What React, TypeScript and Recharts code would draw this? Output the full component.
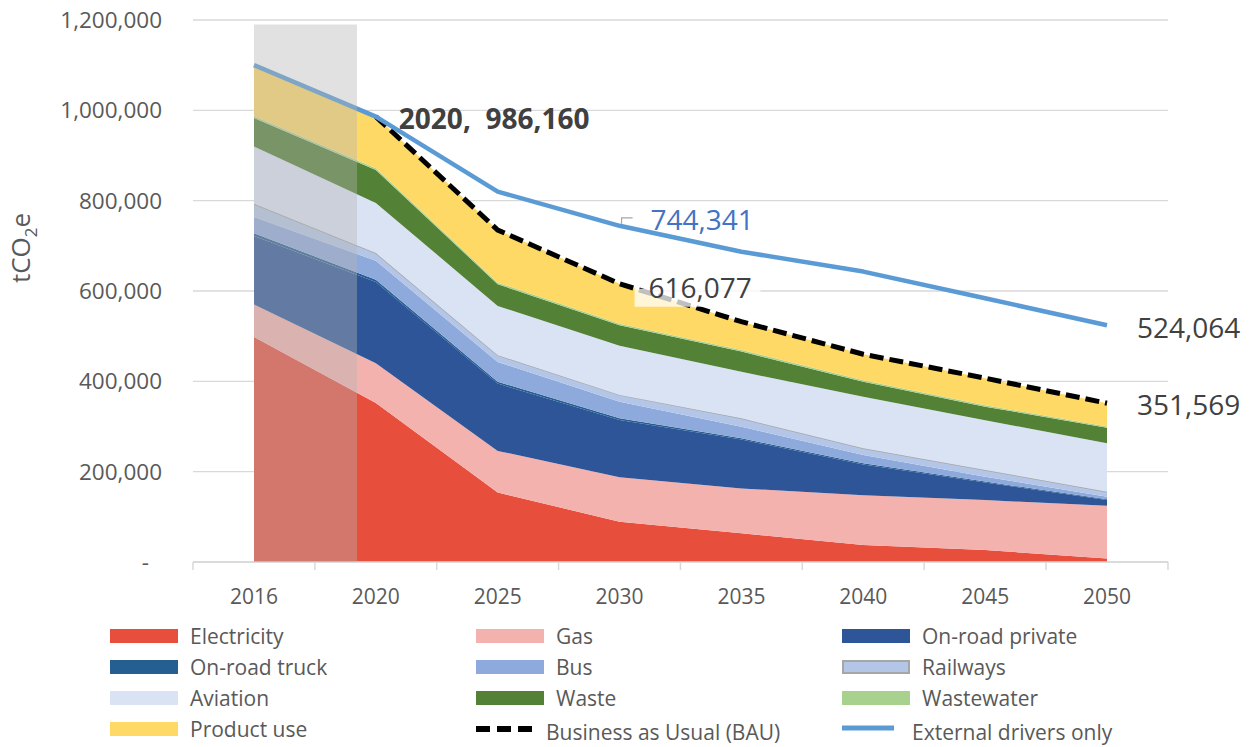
import React from 'react'
import {
  ComposedChart,
  Area,
  Line,
  XAxis,
  YAxis,
  CartesianGrid,
  ReferenceArea,
  LabelList,
} from 'recharts'

const years = ['2016', '2020', '2025', '2030', '2035', '2040', '2045', '2050']

// stacked sectors, tCO2e
const electricity = [498000, 352000, 154000, 89000, 63500, 37600, 26500, 8000]
const gas = [72000, 88000, 92000, 98500, 99500, 110400, 110500, 116600]
const roadPrivate = [152000, 180000, 149000, 127000, 108000, 68000, 39000, 12700]
const roadTruck = [6000, 5000, 4000, 3500, 3000, 2500, 2000, 1500]
const bus = [36000, 42000, 44000, 37000, 25500, 18500, 11000, 5800]
const railways = [29000, 17000, 15000, 15000, 18500, 15000, 14700, 11000]
const aviation = [127000, 111000, 109000, 109000, 103000, 114000, 110300, 107100]
const waste = [63000, 73000, 48000, 45000, 45000, 33000, 30000, 34300]
const wastewater = [4000, 3800, 3500, 3500, 3400, 3300, 3200, 3000]
const productUse = [113000, 114360, 116500, 88577, 62600, 57700, 59800, 51569]

// scenario lines
const bau = [null, 986160, 735000, 616077, 532000, 460000, 407000, 351569]
const externalOnly = [1100000, 986160, 820000, 744341, 687000, 643000, 584000, 524064]

const yTicks = [0, 200000, 400000, 600000, 800000, 1000000, 1200000]

// historic period shading
const shadeFrom = '2016'
const shadeTo = '2020'
const shadeTop = 1190000

const FONT = '"Open Sans", sans-serif'
const AXIS_GREY = '#595959'
const GRID = '#D9D9D9'
const HALF_BAND = 61

const sectors = [
  { key: 'electricity', name: 'Electricity', color: '#E84E3C' },
  { key: 'gas', name: 'Gas', color: '#F4B2AE' },
  { key: 'roadPrivate', name: 'On-road private', color: '#2E5597' },
  { key: 'roadTruck', name: 'On-road truck', color: '#255E91' },
  { key: 'bus', name: 'Bus', color: '#8EA9DB' },
  { key: 'railways', name: 'Railways', color: '#B4C6E7', border: '#A6A6A6' },
  { key: 'aviation', name: 'Aviation', color: '#DAE3F3' },
  { key: 'waste', name: 'Waste', color: '#538135' },
  { key: 'wastewater', name: 'Wastewater', color: '#A9D18E' },
  { key: 'productUse', name: 'Product use', color: '#FFD966' },
]

const data = years.map((year, i) => ({
  year,
  electricity: electricity[i],
  gas: gas[i],
  roadPrivate: roadPrivate[i],
  roadTruck: roadTruck[i],
  bus: bus[i],
  railways: railways[i],
  aviation: aviation[i],
  waste: waste[i],
  wastewater: wastewater[i],
  productUse: productUse[i],
  bau: bau[i],
  externalOnly: externalOnly[i],
}))

const fmt = (v: number) => v.toLocaleString('en-US')

function YearTick(props: any) {
  const { x, y, payload, index } = props
  const last = index === years.length - 1
  return (
    <g>
      <line x1={x - HALF_BAND} x2={x - HALF_BAND} y1={y} y2={y + 8} stroke={GRID} strokeWidth={1.5} />
      {last && <line x1={x + HALF_BAND} x2={x + HALF_BAND} y1={y} y2={y + 8} stroke={GRID} strokeWidth={1.5} />}
      <text x={x} y={y + 42} textAnchor="middle" fontSize={21} fill={AXIS_GREY} fontFamily={FONT}>
        {payload.value}
      </text>
    </g>
  )
}

function ValueTick(props: any) {
  const { x, y, payload } = props
  const zero = payload.value === 0
  return (
    <text x={zero ? x - 13 : x} y={y} dy="0.36em" textAnchor="end" fontSize={22.5} fill={AXIS_GREY} fontFamily={FONT}>
      {zero ? '-' : fmt(payload.value)}
    </text>
  )
}

function UnitLabel(props: any) {
  const { viewBox } = props
  const cx = viewBox.x + 30
  const cy = viewBox.y + 228
  return (
    <text x={cx} y={cy} textAnchor="middle" fontSize={26} fill={AXIS_GREY} fontFamily={FONT} transform={`rotate(-90, ${cx}, ${cy})`}>
      <tspan>tCO</tspan>
      <tspan dy={7} fontSize={17}>2</tspan>
      <tspan dy={-7}>e</tspan>
    </text>
  )
}

function BauLabel(props: any) {
  const { x, y, value, index } = props
  if (value == null) return null
  const base = { fontFamily: FONT, fontSize: 28, fill: '#404040', dominantBaseline: 'central' as const }
  if (index === 1) {
    return (
      <text x={x + 23} y={y + 1} fontWeight="bold" {...base} xmlSpace="preserve">
        {`${years[index]},  ${fmt(value)}`}
      </text>
    )
  }
  if (index === 3) {
    return (
      <g>
        <rect x={x + 15} y={y + 5} width={126} height={18} fill="#fff" fillOpacity={0.75} />
        <text x={x + 29} y={y + 3} {...base}>{fmt(value)}</text>
      </g>
    )
  }
  if (index === years.length - 1) {
    return <text x={x + 30} y={y + 1} {...base}>{fmt(value)}</text>
  }
  return null
}

function ExternalLabel(props: any) {
  const { x, y, value, index } = props
  if (index === 3) {
    return (
      <g>
        <path d={`M ${x + 2} ${y - 2} V ${y - 8} H ${x + 13}`} stroke="#A6A6A6" strokeWidth={1.2} fill="none" />
        <text x={x + 31} y={y - 7} fontFamily={FONT} fontSize={28} fill="#4472C4" dominantBaseline="central">
          {fmt(value)}
        </text>
      </g>
    )
  }
  if (index === years.length - 1) {
    return (
      <text x={x + 30} y={y + 2} fontFamily={FONT} fontSize={28} fill="#404040" dominantBaseline="central">
        {fmt(value)}
      </text>
    )
  }
  return null
}

function GreyShade(props: any) {
  // the shaded box stops short of the 2020 point
  return <rect x={props.x} y={props.y} width={props.width * 0.845} height={props.height} fill="#B5B5B5" fillOpacity={0.4} />
}

const legendItems = [
  ...sectors.map(s => ({ name: s.name, color: s.color, border: s.border, kind: 'area' })),
  { name: 'Business as Usual (BAU)', color: '#000', border: undefined, kind: 'dash' },
  { name: 'External drivers only', color: '#5B9BD5', border: undefined, kind: 'line' },
]

function ChartLegend() {
  return (
    <div style={{ position: 'absolute', left: 0, top: 0, width: 1252, height: 747, pointerEvents: 'none' }}>
      {legendItems.map((item, i) => {
        const col = i % 3
        const row = Math.floor(i / 3)
        const left = 110 + col * 366
        const cy = 636 + row * 31
        return (
          <div key={item.name} style={{ position: 'absolute', left, top: cy - 15, height: 30, display: 'flex', alignItems: 'center' }}>
            {item.kind === 'area' && (
              <span style={{ width: 68, height: 14, background: item.color, boxSizing: 'border-box', border: item.border ? `2px solid ${item.border}` : 'none' }} />
            )}
            {item.kind === 'dash' && (
              <svg width={68} height={14}>
                <line x1={0} x2={58} y1={7} y2={7} stroke={item.color} strokeWidth={6} strokeDasharray="14 7" />
              </svg>
            )}
            {item.kind === 'line' && (
              <svg width={68} height={14}>
                <line x1={0} x2={52} y1={6} y2={6} stroke={item.color} strokeWidth={5} />
              </svg>
            )}
            <span style={{ marginLeft: item.kind === 'area' ? 12 : 2, fontFamily: FONT, fontSize: 21, color: AXIS_GREY, whiteSpace: 'nowrap', position: 'relative', top: item.kind === 'area' ? 0 : 3 }}>
              {item.name}
            </span>
          </div>
        )
      })}
    </div>
  )
}

export default function App() {
  return (
    <div style={{ position: 'absolute', left: 0, top: 0, width: 1252, height: 747, background: '#fff', fontFamily: FONT }}>
      <ComposedChart width={1252} height={612} data={data} margin={{ top: 20, right: 84, bottom: 0, left: 0 }}>
        <CartesianGrid vertical={false} stroke={GRID} strokeWidth={1.3} />
        <XAxis
          dataKey="year"
          padding={{ left: HALF_BAND, right: HALF_BAND }}
          axisLine={{ stroke: GRID, strokeWidth: 1.5 }}
          tickLine={false}
          tickSize={0}
          tickMargin={0}
          height={50}
          interval={0}
          tick={<YearTick />}
        />
        <YAxis
          domain={[0, 1200000]}
          ticks={yTicks}
          width={193}
          axisLine={false}
          tickLine={false}
          tickSize={0}
          tickMargin={31}
          tick={<ValueTick />}
          label={<UnitLabel />}
        />
        {sectors.map(s => (
          <Area
            key={s.key}
            type="linear"
            dataKey={s.key}
            name={s.name}
            stackId="sectors"
            fill={s.color}
            fillOpacity={1}
            stroke={s.border ?? 'none'}
            strokeWidth={s.border ? 1.5 : 0}
            dot={false}
            activeDot={false}
            isAnimationActive={false}
          />
        ))}
        <Line
          type="linear"
          dataKey="bau"
          name="Business as Usual (BAU)"
          stroke="#000"
          strokeWidth={5}
          strokeDasharray="14 6"
          dot={false}
          activeDot={false}
          isAnimationActive={false}
        >
          <LabelList dataKey="bau" content={<BauLabel />} />
        </Line>
        <Line
          type="linear"
          dataKey="externalOnly"
          name="External drivers only"
          stroke="#5B9BD5"
          strokeWidth={4.5}
          strokeLinejoin="round"
          dot={false}
          activeDot={false}
          isAnimationActive={false}
        >
          <LabelList dataKey="externalOnly" content={<ExternalLabel />} />
        </Line>
        <ReferenceArea
          x1={shadeFrom}
          x2={shadeTo}
          y1={0}
          y2={shadeTop}
          shape={<GreyShade />}
          ifOverflow="visible"
          zIndex={1500}
        />
      </ComposedChart>
      <ChartLegend />
    </div>
  )
}
